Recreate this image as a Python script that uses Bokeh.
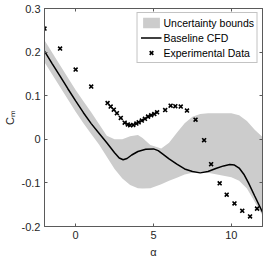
from bokeh.plotting import figure
from bokeh.models import Range1d, LinearAxis, FixedTicker, Legend, LegendItem
from bokeh.embed import file_html
from bokeh.resources import INLINE

# Experimental data
alpha_exp = [-2, -1, 0, 1, 2.05, 2.25, 2.45, 2.65, 2.9, 3.15, 3.35, 3.5, 3.7, 3.9, 4.05,
             4.25, 4.45, 4.65, 4.85, 5.05, 5.23, 5.75, 6.1, 6.4, 6.75, 7.15, 7.7, 8.25,
             8.7, 9.25, 9.7, 10.2, 10.7, 11.2, 11.65]
cm_exp = [0.254, 0.208, 0.160, 0.121, 0.083, 0.075, 0.068, 0.060, 0.049, 0.038, 0.034,
          0.032, 0.033, 0.036, 0.039, 0.043, 0.047, 0.052, 0.055, 0.058, 0.062, 0.067,
          0.077, 0.076, 0.075, 0.066, 0.045, -0.002, -0.057, -0.101, -0.127, -0.147,
          -0.164, -0.177, -0.159]

# Baseline CFD
alpha_cfd = [-2, -1.5, -1, -0.5, 0, 0.5, 1, 1.5, 2, 2.5, 2.8, 3.05, 3.3, 3.6, 4, 4.5, 5,
             5.3, 5.6, 6, 6.5, 7, 7.5, 8, 8.5, 9, 9.5, 9.9, 10.2, 10.5, 10.8, 11.1, 11.5, 12]
cm_cfd = [0.202, 0.173, 0.145, 0.116, 0.088, 0.061, 0.036, 0.014, -0.008, -0.031, -0.043,
          -0.047, -0.044, -0.036, -0.028, -0.023, -0.022, -0.026, -0.034, -0.045, -0.057,
          -0.068, -0.074, -0.077, -0.074, -0.067, -0.061, -0.058, -0.059, -0.066, -0.080,
          -0.100, -0.130, -0.167]

# Uncertainty bounds
alpha_band = [-2, -1, 0, 0.5, 1, 1.5, 2, 2.5, 3, 3.5, 4, 4.3, 4.8, 5.5, 6, 6.5, 7, 7.5,
              8, 8.5, 10, 10.5, 11, 11.5, 12]
cm_upper = [0.227, 0.170, 0.113, 0.087, 0.062, 0.035, 0.008, 0.0, 0.0, 0.007, 0.010,
            0.003, -0.013, -0.021, -0.008, 0.015, 0.037, 0.052, 0.058, 0.060, 0.060,
            0.055, 0.042, 0.022, 0.005]
cm_lower = [0.177, 0.120, 0.063, 0.037, 0.012, -0.012, -0.040, -0.068, -0.090, -0.105,
            -0.112, -0.113, -0.112, -0.103, -0.095, -0.088, -0.081, -0.077, -0.075,
            -0.077, -0.087, -0.095, -0.113, -0.143, -0.175]

x_ticks = [0, 5, 10]
y_ticks = [-0.2, -0.1, 0, 0.1, 0.2, 0.3]
y_tick_labels = ["-0.2", "-0.1", "0", "0.1", "0.2", "0.3"]

FONT = "Liberation Sans"
AX = "#5a5a5a"
TXT = "#262626"

p = figure(frame_width=218, frame_height=218, output_backend="svg", toolbar_location=None,
           x_range=Range1d(-2, 12), y_range=Range1d(-0.2, 0.3),
           min_border_left=43, min_border_right=3, min_border_top=8, min_border_bottom=34)
p.grid.visible = False
p.outline_line_color = AX
p.background_fill_color = "white"
p.border_fill_color = "white"

band = p.varea(x=alpha_band, y1=cm_lower, y2=cm_upper, fill_color="#cccccc")
line = p.line(alpha_cfd, cm_cfd, line_color="black", line_width=1.5)
pts = p.scatter(alpha_exp, cm_exp, marker="x", size=5.5, line_color="black", line_width=1.6)

for ax in (p.xaxis[0], p.yaxis[0]):
    ax.axis_line_color = AX
    ax.major_tick_line_color = AX
    ax.major_tick_in = 3
    ax.major_tick_out = 0
    ax.minor_tick_line_color = None
    ax.major_label_text_font = FONT
    ax.major_label_text_font_size = "11px"
    ax.major_label_text_color = TXT
    ax.major_label_standoff = 4
    ax.axis_label_text_font = FONT
    ax.axis_label_text_font_style = "normal"
    ax.axis_label_text_font_size = "11px"
    ax.axis_label_text_color = TXT

p.xaxis[0].ticker = FixedTicker(ticks=x_ticks)
p.yaxis[0].ticker = FixedTicker(ticks=y_ticks)
p.yaxis[0].major_label_overrides = {t: s for t, s in zip(y_ticks, y_tick_labels)}
p.xaxis[0].axis_label = "α"
p.xaxis[0].axis_label_standoff = 4
p.yaxis[0].axis_label = "Cₘ"
p.yaxis[0].axis_label_standoff = 3
p.yaxis[0].axis_label_text_line_height = 1.0

top = LinearAxis(ticker=FixedTicker(ticks=x_ticks),
                 major_label_overrides={t: "" for t in x_ticks},
                 major_tick_in=3, major_tick_out=0, minor_tick_line_color=None,
                 axis_line_color=AX, major_tick_line_color=AX, major_label_standoff=0)
right = LinearAxis(ticker=FixedTicker(ticks=y_ticks),
                   major_label_overrides={t: "" for t in y_ticks},
                   major_tick_in=3, major_tick_out=0, minor_tick_line_color=None,
                   axis_line_color=AX, major_tick_line_color=AX, major_label_standoff=0)
p.add_layout(top, "above")
p.add_layout(right, "right")

legend = Legend(items=[LegendItem(label="Uncertainty bounds", renderers=[band]),
                       LegendItem(label="Baseline CFD", renderers=[line]),
                       LegendItem(label="Experimental Data", renderers=[pts])],
                location="top_right", label_text_font=FONT, label_text_font_size="10.5px",
                label_text_color="black", glyph_width=21, glyph_height=13, label_height=13,
                spacing=2, padding=3, margin=4, label_standoff=2,
                border_line_color="#888888", border_line_width=1,
                background_fill_color="white", background_fill_alpha=1)
p.add_layout(legend)

open("out.html", "w").write(file_html(p, INLINE))
